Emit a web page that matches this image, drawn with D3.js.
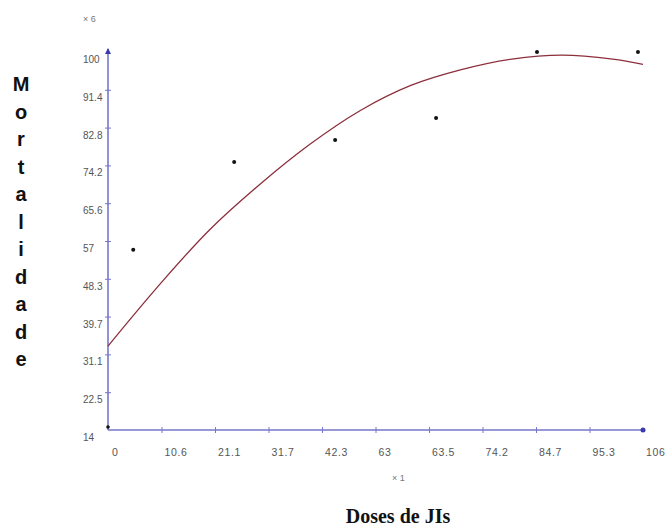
<!DOCTYPE html>
<html lang="pt">
<head>
<meta charset="utf-8">
<title>Mortalidade x Doses de JIs</title>
<script src="https://cdn.jsdelivr.net/npm/d3@7"></script>
<style>
  body { margin: 0; background: #fff; }
  svg { display: block; }
</style>
</head>
<body>
<div id="chart"></div>
<script>
// Data
const xTicks = [0, 10.6, 21.2, 31.8, 42.4, 53, 63.6, 74.2, 84.8, 95.4, 106];
const xTickLabels = ["0", "10.6", "21.1", "31.7", "42.3", "63", "63.5", "74.2", "84.7", "95.3", "106"];
const yTicks = [14, 22.6, 31.2, 39.8, 48.4, 57, 65.6, 74.2, 82.8, 91.4, 100];
const yTickLabels = ["14", "22.5", "31.1", "39.7", "48.3", "57", "65.6", "74.2", "82.8", "91.4", "100"];

const doses = [5, 25, 45, 65, 85, 105];
const mortalidade = [55, 75, 80, 85, 100, 100];

// fitted curve
const curveX = [0, 10, 20, 30, 40, 50, 60, 70, 80, 90, 100, 106];
const curveY = [33.1, 46.8, 59.4, 69.8, 79.0, 86.7, 92.4, 96.0, 98.4, 99.3, 98.4, 97.2];

const W = 667, H = 527;
const svg = d3.select("#chart").append("svg")
  .attr("width", W).attr("height", H);

const x = d3.scaleLinear().domain([0, 106]).range([108, 643]);
const y = d3.scaleLinear().domain([14, 100]).range([430, 52]);

const axisColor = "#7676cc";
const labelColor = "#555";
const sans = "Liberation Sans, Arial, sans-serif";

// axes lines
svg.append("line")
  .attr("x1", x(0)).attr("x2", x(106))
  .attr("y1", y(14)).attr("y2", y(14))
  .attr("stroke", axisColor).attr("stroke-width", 1.6);
svg.append("line")
  .attr("x1", x(0)).attr("x2", x(0))
  .attr("y1", y(14)).attr("y2", y(100) - 3)
  .attr("stroke", axisColor).attr("stroke-width", 1.6);

// arrow on y, dot on x end
svg.append("path")
  .attr("d", `M${x(0) - 3},${y(100) + 2} L${x(0)},${y(100) - 4} L${x(0) + 3},${y(100) + 2} Z`)
  .attr("fill", "#3a3ab0");
svg.append("circle")
  .attr("cx", x(106)).attr("cy", y(14)).attr("r", 2.5)
  .attr("fill", "#3a3ab0");

// tick marks
const xAxis = svg.append("g")
  .attr("transform", `translate(0,${y(14)})`)
  .call(d3.axisBottom(x).tickValues(xTicks.slice(1, -1)).tickSize(3).tickSizeOuter(0)
    .tickFormat(""));
xAxis.select(".domain").remove();
xAxis.selectAll("line").attr("stroke", axisColor).attr("y1", -3);

const yAxis = svg.append("g")
  .attr("transform", `translate(${x(0)},0)`)
  .call(d3.axisLeft(y).tickValues(yTicks.slice(1, -1)).tickSize(3).tickSizeOuter(0)
    .tickFormat(""));
yAxis.select(".domain").remove();
yAxis.selectAll("line").attr("stroke", axisColor).attr("x1", 3);

// tick labels
svg.append("g").selectAll("text")
  .data(xTicks)
  .join("text")
  .attr("x", (d, i) => x(d) + (i === 0 ? 4 : 3))
  .attr("y", 456)
  .attr("font-family", sans)
  .attr("font-size", 10.5)
  .attr("letter-spacing", 0.6)
  .attr("fill", labelColor)
  .text((d, i) => xTickLabels[i]);

svg.append("g").selectAll("text")
  .data(yTicks)
  .join("text")
  .attr("x", 83)
  .attr("y", d => y(d) + 11)
  .attr("font-family", sans)
  .attr("font-size", 10)
  .attr("fill", labelColor)
  .text((d, i) => yTickLabels[i]);

// scale factors
svg.append("text")
  .attr("x", 83).attr("y", 22)
  .attr("font-family", sans)
  .attr("font-size", 9).attr("fill", "#777")
  .text("× 6");
svg.append("text")
  .attr("x", 392).attr("y", 481)
  .attr("font-family", sans)
  .attr("font-size", 9).attr("fill", "#777")
  .text("× 1");

// fitted curve
const line = d3.line()
  .x(d => x(d[0]))
  .y(d => y(d[1]))
  .curve(d3.curveCatmullRom);

svg.append("path")
  .datum(curveX.map((d, i) => [d, curveY[i]]))
  .attr("fill", "none")
  .attr("stroke", "#8c2f3c")
  .attr("stroke-width", 1.3)
  .attr("d", line);

// observed points
svg.append("g").selectAll("circle")
  .data(doses)
  .join("circle")
  .attr("cx", d => x(d))
  .attr("cy", (d, i) => y(mortalidade[i]))
  .attr("r", 2)
  .attr("fill", "#111");

// origin marker
svg.append("circle")
  .attr("cx", x(0)).attr("cy", y(14) - 3).attr("r", 1.8)
  .attr("fill", "#111");

// axis titles
const yTitle = "Mortalidade".split("");
svg.append("g").selectAll("text")
  .data(yTitle)
  .join("text")
  .attr("x", 21)
  .attr("y", (d, i) => 91 + i * 27.5)
  .attr("text-anchor", "middle")
  .attr("font-family", sans)
  .attr("font-weight", "bold")
  .attr("font-size", 20)
  .attr("fill", "#111")
  .text(d => d);

svg.append("text")
  .attr("x", 398).attr("y", 523)
  .attr("text-anchor", "middle")
  .attr("font-family", "Liberation Serif, Times New Roman, serif")
  .attr("font-weight", "bold")
  .attr("font-size", 20)
  .attr("fill", "#111")
  .text("Doses de JIs");
</script>
</body>
</html>
